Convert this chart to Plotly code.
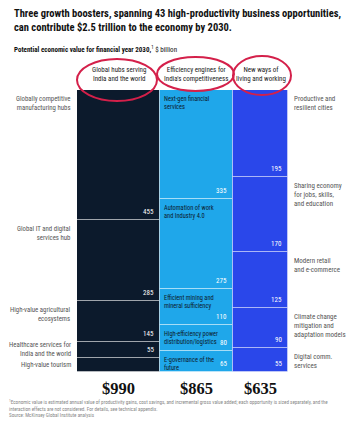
import plotly.graph_objects as go

# ---------------- data ----------------
column_titles = ["Global hubs serving<br>India and the world",
                 "Efficiency engines for<br>India's competitiveness",
                 "New ways of<br>living and working"]
column_totals = ["$990", "$865", "$635"]

col1_names = ["Globally competitive<br>manufacturing hubs",
              "Global IT and digital<br>services hub",
              "High-value agricultural<br>ecosystems",
              "Healthcare services for<br>India and the world",
              "High-value tourism"]
col1_values = [455, 285, 145, 55, 50]

col2_names = ["Next-gen financial<br>services",
              "Automation of work<br>and Industry 4.0",
              "Efficient mining and<br>mineral sufficiency",
              "High-efficiency power<br>distribution/logistics",
              "E-governance of the<br>future"]
col2_values = [335, 275, 110, 80, 65]

col3_names = ["Productive and<br>resilient cities",
              "Sharing economy<br>for jobs, skills,<br>and education",
              "Modern retail<br>and e-commerce",
              "Climate change<br>mitigation and<br>adaptation models",
              "Digital comm.<br>services"]
col3_values = [195, 170, 125, 90, 55]

title_text = ("<b>Three growth boosters, spanning 43 high-productivity business opportunities,<br>"
              "can contribute $2.5 trillion to the economy by 2030.</b>")
subtitle_text = "<b>Potential economic value for financial year 2030,</b><sup>1</sup> $ billion"
footnote_text = ("<sup>1</sup>Economic value is estimated annual value of productivity gains, cost savings, and incremental gross value added; "
                 "each opportunity is sized separately, and the<br>interaction effects are not considered. For details, see technical appendix."
                 "<br>Source: McKinsey Global Institute analysis")

# ---------------- style / layout ----------------
W, H = 346, 423
col_widths = [83, 73, 55]
col_colors = ["#0c1a2c", "#1fa7ea", "#2a47ea"]
SANS = "Liberation Sans Narrow, Arial Narrow, Roboto Condensed, Liberation Sans, sans-serif"
SERIF = "Liberation Serif, DejaVu Serif, serif"
plot_left, plot_right, plot_top, plot_bottom = 77, 288, 90, 372


def px(x):
    return x / W


def py(y):
    return 1 - y / H


cols = [(col1_names, col1_values), (col2_names, col2_values), (col3_names, col3_values)]
lefts = []
acc = 0
for w in col_widths:
    lefts.append(acc)
    acc += w
centers = [l + w / 2 for l, w in zip(lefts, col_widths)]

fig = go.Figure()
annotations = []

for ci, ((names, values), color) in enumerate(zip(cols, col_colors)):
    total = sum(values)
    shares = [v / total for v in values]
    tops, bases = [], []
    cum = 0.0
    for s in shares:
        tops.append(1 - cum)
        cum += s
        bases.append(1 - cum)
    fig.add_trace(go.Bar(
        x=[centers[ci]] * len(values), y=shares, base=bases,
        width=[col_widths[ci]] * len(values),
        marker=dict(color=color, line=dict(color="rgba(255,255,255,0.4)", width=1)),
        hoverinfo="skip", showlegend=False))
    right_edge = lefts[ci] + col_widths[ci]
    for name, v, s, t, b in zip(names, values, shares, tops, bases):
        # value label at bottom-right of segment
        annotations.append(dict(x=right_edge, y=b, xref="x", yref="y", text=str(v),
                                xanchor="right", yanchor="bottom", xshift=-4, yshift=2,
                                showarrow=False, font=dict(family=SANS, size=7, color="white")))
        small = s < 0.07
        yv = (t + b) / 2 if small else t
        ya = "middle" if small else "top"
        ys = 0 if small else -3
        if ci == 0:
            annotations.append(dict(x=lefts[ci], y=yv, xref="x", yref="y", text=name,
                                    xanchor="right", yanchor=ya, align="right", xshift=-4, yshift=ys,
                                    showarrow=False, font=dict(family=SANS, size=6.8, color="#555")))
        elif ci == 1:
            annotations.append(dict(x=lefts[ci], y=yv, xref="x", yref="y", text=name,
                                    xanchor="left", yanchor=ya, align="left", xshift=2, yshift=ys,
                                    showarrow=False, font=dict(family=SANS, size=6.4, color="#0c1a2c")))
        else:
            annotations.append(dict(x=right_edge, y=yv, xref="x", yref="y", text=name,
                                    xanchor="left", yanchor=ya, align="left", xshift=4, yshift=ys,
                                    showarrow=False, font=dict(family=SANS, size=7, color="#555")))
    # column header
    annotations.append(dict(x=centers[ci], y=1, xref="x", yref="y", text=column_titles[ci],
                            xanchor="center", yanchor="bottom", yshift=5, showarrow=False,
                            font=dict(family=SANS, size=7, color="#222")))
    # total
    annotations.append(dict(x=centers[ci], y=0, xref="x", yref="y", text="<b>" + column_totals[ci] + "</b>",
                            xanchor="center", yanchor="top", yshift=-5, showarrow=False,
                            font=dict(family=SERIF, size=16.5, color="#111")))

annotations.append(dict(x=px(12), y=py(5), xref="paper", yref="paper", text=title_text,
                        xanchor="left", yanchor="top", align="left", showarrow=False,
                        font=dict(family=SANS, size=10.5, color="#111")))
annotations.append(dict(x=px(12), y=py(49), xref="paper", yref="paper", text=subtitle_text,
                        xanchor="left", yanchor="middle", align="left", showarrow=False,
                        font=dict(family=SANS, size=7, color="#111")))
annotations.append(dict(x=px(7), y=py(397), xref="paper", yref="paper", text=footnote_text,
                        xanchor="left", yanchor="top", align="left", showarrow=False,
                        font=dict(family=SANS, size=5.1, color="#888")))

red = "#d4204a"
shapes = [
    dict(type="circle", xref="paper", yref="paper", x0=px(77), x1=px(157), y0=py(101), y1=py(59),
         line=dict(color=red, width=2)),
    dict(type="circle", xref="paper", yref="paper", x0=px(157), x1=px(234), y0=py(91), y1=py(57),
         line=dict(color=red, width=2)),
    dict(type="circle", xref="paper", yref="paper", x0=px(233), x1=px(291), y0=py(95), y1=py(56),
         line=dict(color=red, width=2)),
]

fig.update_layout(
    width=W, height=H, autosize=False,
    margin=dict(l=0, r=0, t=0, b=0, pad=0),
    paper_bgcolor="white", plot_bgcolor="white",
    barmode="overlay", bargap=0,
    xaxis=dict(range=[0, sum(col_widths)], domain=[px(plot_left), px(plot_right)],
               visible=False, fixedrange=True),
    yaxis=dict(range=[0, 1], domain=[py(plot_bottom), py(plot_top)], visible=False, fixedrange=True),
    annotations=annotations, shapes=shapes,
)

fig.write_html("out.html", config={"displayModeBar": False})
